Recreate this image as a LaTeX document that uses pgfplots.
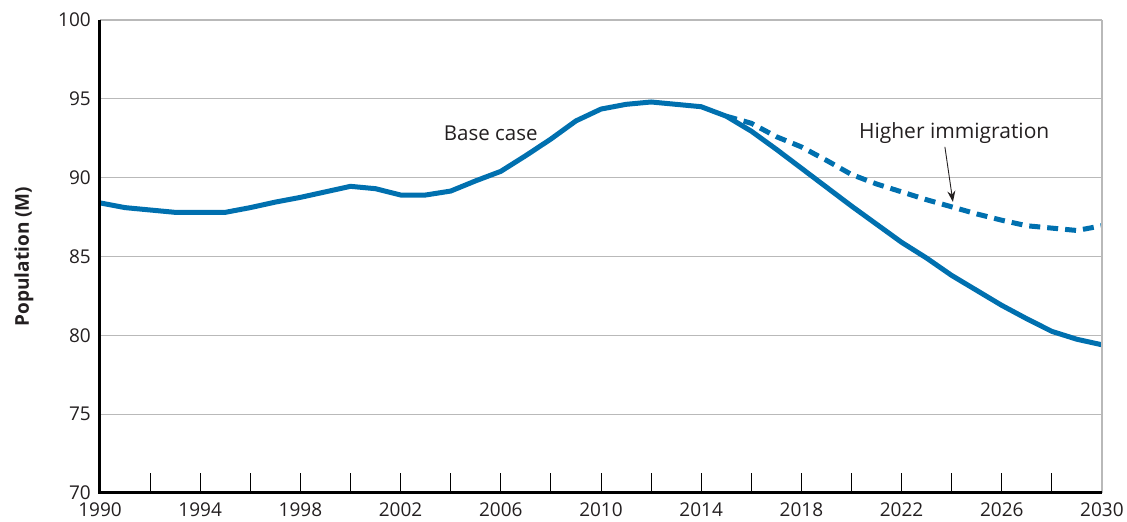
\documentclass[border=0pt]{standalone}
\usepackage{pgfplots}
\pgfplotsset{compat=1.18}
\usepackage{fontspec}
\setmainfont{Open Sans}
\usetikzlibrary{arrows.meta}
\definecolor{lineblue}{RGB}{0,112,175}
\definecolor{txt}{RGB}{35,31,32}
\definecolor{gridgray}{RGB}{185,185,185}

\begin{document}
\begin{tikzpicture}[x=1pt,y=1pt]
\useasboundingbox (-100,-29) rectangle (1027,493);
\begin{axis}[
  at={(0,0)}, anchor=south west,
  scale only axis, width=1002pt, height=473pt,
  xmin=1990, xmax=2030, ymin=70, ymax=100,
  clip=false,
  axis line style={draw=none},
  xtick={1990,1994,...,2030},
  minor xtick={1992,1996,...,2028},
  ytick={70,75,...,100},
  xtick pos=bottom,
  tick align=inside,
  major tick length=20pt, minor tick length=20pt,
  xtick style={black, line width=0.9pt},
  minor x tick style={black, line width=0.9pt},
  ytick style={draw=none},
  ymajorgrids,
  grid style={gridgray, line width=1.2pt},
  /pgf/number format/assume math mode=true,
  /pgf/number format/1000 sep={},
  xticklabel style={font=\fontsize{19}{21}\selectfont, text=txt, anchor=north, inner sep=0pt, yshift=-10pt},
  yticklabel style={font=\fontsize{19}{21}\selectfont, text=txt, anchor=east, inner sep=0pt, xshift=-9pt},
  ylabel={Population (M)},
  ylabel style={at={(axis description cs:-0.0759,0.5)}, anchor=center, font=\bfseries\fontsize{19}{21}\selectfont, text=txt},
]
\addplot[lineblue, line width=5pt, dash pattern=on 11pt off 7pt] coordinates {
(2015,93.9) (2016,93.45) (2017,92.6) (2018,91.95) (2019,91.1) (2020,90.2)
(2021,89.6) (2022,89.1) (2023,88.6) (2024,88.15) (2025,87.7) (2026,87.3)
(2027,86.95) (2028,86.8) (2029,86.65) (2030,86.95)
};
\addplot[lineblue, line width=5pt] coordinates {
(1990,88.4) (1991,88.1) (1992,87.95) (1993,87.8) (1994,87.8) (1995,87.8)
(1996,88.1) (1997,88.45) (1998,88.75) (1999,89.1) (2000,89.45) (2001,89.3)
(2002,88.9) (2003,88.9) (2004,89.15) (2005,89.8) (2006,90.4) (2007,91.4)
(2008,92.45) (2009,93.6) (2010,94.35) (2011,94.65) (2012,94.8) (2013,94.65)
(2014,94.5) (2015,93.9) (2016,92.95) (2017,91.8) (2018,90.6) (2019,89.4)
(2020,88.2) (2021,87.05) (2022,85.9) (2023,84.9) (2024,83.8) (2025,82.85)
(2026,81.9) (2027,81.05) (2028,80.25) (2029,79.75) (2030,79.4)
};
\draw[gridgray, line width=1.2pt] (axis cs:2030,70) -- (axis cs:2030,100);
\draw[black, line width=3pt] (axis cs:1990,100) -- (axis cs:1990,70) -- (axis cs:2030,70);
\node[font=\fontsize{20.5}{22}\selectfont, text=txt] at (axis cs:2005.6,92.83) {Base case};
\node[font=\fontsize{21}{22}\selectfont, text=txt] at (axis cs:2024.1,92.83) {Higher immigration};
\draw[txt, line width=0.9pt, -{Stealth[length=11pt,width=8pt]}] (axis cs:2023.73,91.95) -- (axis cs:2024.05,88.46);
\end{axis}
\end{tikzpicture}
\end{document}
